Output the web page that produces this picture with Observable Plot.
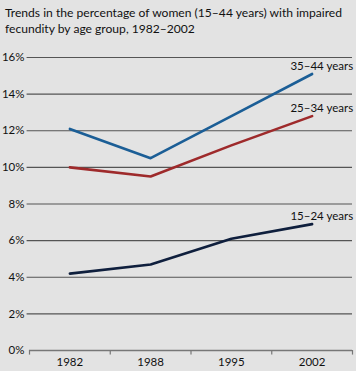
<!DOCTYPE html>
<html><head><meta charset="utf-8">
<script src="https://cdn.jsdelivr.net/npm/d3@7"></script>
<script src="https://cdn.jsdelivr.net/npm/@observablehq/plot@0.6"></script>
<style>
body{margin:0;background:#e3e3e3;width:356px;height:371px;overflow:hidden;font-family:Lato,sans-serif;}
#title{height:40px;box-sizing:border-box;padding:5px 0 0 5px;font-size:12.1px;line-height:16px;color:#111;white-space:nowrap;}
svg{display:block;}
</style></head><body>
<div id="title">Trends in the percentage of women (15–44 years) with impaired<br>fecundity by age group, 1982–2002</div>
<div id="chart"></div>
<script>
const years = ["1982","1988","1995","2002"];
const groups = ["15–24 years","25–34 years","35–44 years"];
const v1524 = [4.2, 4.7, 6.1, 6.9];
const v2534 = [10.0, 9.5, 11.2, 12.8];
const v3544 = [12.1, 10.5, 12.8, 15.1];
const colors = ["#0f1f3d","#9e2a2b","#1b5e96"];
const yTicks = [0,2,4,6,8,10,12,14,16];

const series = [v1524, v2534, v3544];
const data = [];
series.forEach((vals, g) => vals.forEach((v, i) => data.push({group: groups[g], i, year: years[i], value: v})));
const last = data.filter(d => d.i === years.length - 1);
const bounds = d3.range(years.length + 1).map(k => k - 0.5);

const chart = Plot.plot({
  width: 356, height: 331,
  marginTop: 17, marginBottom: 21, marginLeft: 29, marginRight: 4,
  style: {background: "transparent", fontFamily: "Lato, sans-serif", color: "#111"},
  x: {type: "linear", domain: [-0.5, years.length - 0.5], ticks: d3.range(years.length), tickFormat: i => years[i], tickSize: 0, tickPadding: 7, label: null},
  y: {domain: [0, 16], ticks: yTicks, tickFormat: d => d + "%", tickSize: 0, tickPadding: 5, label: null},
  color: {domain: groups, range: colors},
  marks: [
    Plot.ruleY(yTicks.filter(t => t > 0), {y: d => d, x1: -0.53, x2: years.length - 0.5, stroke: "#555", strokeWidth: 1.2}),
    Plot.ruleY([0], {x1: -0.5, x2: years.length - 0.5, stroke: "#777", strokeWidth: 1.5}),
    Plot.ruleX(bounds, {x: d => d, y1: 0, y2: -0.25, stroke: "#777", strokeWidth: 1.2}),
    Plot.line(data, {x: "i", y: "value", z: "group", stroke: "group", strokeWidth: 2.6}),
    Plot.text(last, {x: "i", y: "value", text: "group", textAnchor: "end", dx: 41, dy: -8, fontSize: 11.5, fill: "#111"})
  ]
});
chart.querySelectorAll("g[aria-label='y-axis tick label'] text, g[aria-label='x-axis tick label'] text").forEach(t => t.style.fontSize = "11.5px");
document.getElementById("chart").append(chart);
</script>
</body></html>
